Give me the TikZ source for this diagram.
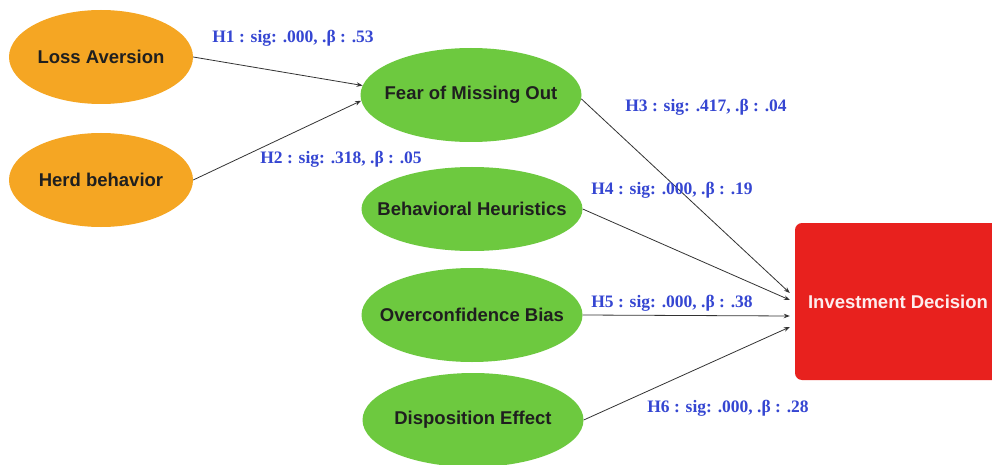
\documentclass[tikz,border=0pt]{standalone}
\usepackage{fontspec}
\setmainfont{Liberation Serif}
\setsansfont{Liberation Sans}
\usetikzlibrary{shapes.geometric,arrows.meta}
\definecolor{orng}{HTML}{F5A623}
\definecolor{grn}{HTML}{6DC93F}
\definecolor{rd}{HTML}{E8211E}
\definecolor{lblue}{HTML}{3546D2}
\definecolor{lnk}{HTML}{333333}
\tikzset{
  bfont/.style={font=\sffamily\bfseries\fontsize{18.5}{20}\selectfont, text=black!88, inner sep=0pt},
  bub/.style={ellipse, inner sep=0pt},
  orbub/.style={bub, fill=orng, minimum width=184pt, minimum height=94pt},
  grbub/.style={bub, fill=grn, minimum width=221pt, minimum height=94pt},
  hlab/.style={font=\rmfamily\bfseries\fontsize{17.5}{20}\selectfont, text=lblue, inner sep=0pt},
  link/.style={draw=lnk, line width=0.8pt, -{Stealth[length=6pt,width=4.5pt]}},
}
\begin{document}
\begin{tikzpicture}[x=1pt,y=-1pt]
\useasboundingbox (0,0) rectangle (992,465);
\clip (0,0) rectangle (992,465);
\fill[white] (0,0) rectangle (992,465);
\node[orbub, label={[bfont]center:Loss Aversion}] (LA) at (101,57) {};
\node[orbub, label={[bfont]center:Herd behavior}] (HB) at (101,180) {};
\node[grbub, label={[bfont]center:Fear of Missing Out}] (FO) at (471,95) {};
\node[grbub, minimum height=84pt, label={[bfont]center:Behavioral Heuristics}] (BH) at (472,209) {};
\node[grbub, label={[bfont]center:Overconfidence Bias}] (OB) at (472,315) {};
\node[grbub, label={[bfont]center:Disposition Effect}] (DE) at (473,420) {};
\node[rectangle, rounded corners=7pt, fill=rd, minimum width=206pt, minimum height=157pt, inner sep=0pt,
      font=\sffamily\bfseries\fontsize{18.5}{20}\selectfont, text=white!92!rd] (ID) at (898,301.5) {Investment Decision};
\draw[link] (LA.east) -- (FO.175);
\draw[link] (HB.east) -- (FO.183);
\draw[link] (FO.-2) -- ([xshift=-5pt,yshift=8.5pt]ID.west);
\draw[link] (BH.east) -- ([xshift=-5pt,yshift=1.5pt]ID.west);
\draw[link] (OB.east) -- ([xshift=-5pt,yshift=-14.5pt]ID.west);
\draw[link] (DE.east) -- ([xshift=-5pt,yshift=-25.5pt]ID.west);
\node[hlab] (L1) at (293,38) {H1 : sig: .000, .β : .53};
\node[hlab] (L2) at (341,159) {H2 : sig: .318, .β : .05};
\node[hlab] (L3) at (706,107) {H3 : sig: .417, .β : .04};
\node[hlab] (L4) at (672,190) {H4 : sig: .000, .β : .19};
\node[hlab] (L5) at (672,303) {H5 : sig: .000, .β : .38};
\node[hlab] (L6) at (728,408) {H6 : sig: .000, .β : .28};
\end{tikzpicture}
\end{document}
